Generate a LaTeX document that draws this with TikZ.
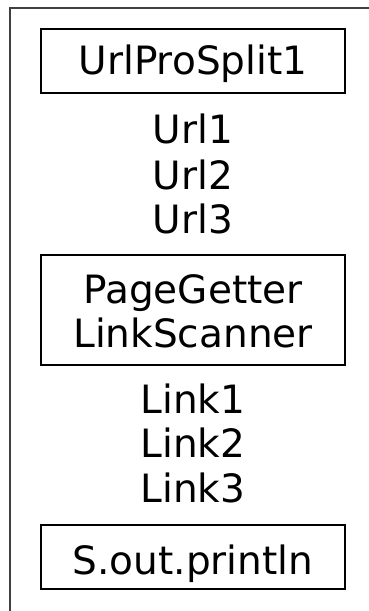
\documentclass[tikz,border=0pt]{standalone}
\usepackage{fontspec}
\setmainfont{DejaVu Sans}
\begin{document}
\begin{tikzpicture}[x=1pt,y=-1pt,
  box/.style={draw=black,line width=1.6pt,inner sep=0pt,minimum width=304pt},
  txt/.style={inner sep=0pt,anchor=base,font=\fontsize{39}{44}\selectfont},
  frame/.style={draw=black!75,line width=1.4pt}]
\useasboundingbox (0,0) rectangle (369,611);
\coordinate (ftop) at (369,8);
\coordinate (fcorner) at (10,8);
\coordinate (fbot) at (10,611);
\draw[frame] (ftop) -- (fcorner) -- (fbot);
\node[box,minimum height=64pt] (b1) at (193,61) {};
\node[txt] (t1) at (193,74) {UrlProSplit1};
\node[txt] (u1) at (193,143) {Url1};
\node[txt] (u2) at (193,189) {Url2};
\node[txt] (u3) at (193,233) {Url3};
\node[box,minimum height=110pt] (b2) at (193,310) {};
\node[txt] (t2a) at (193,303) {PageGetter};
\node[txt] (t2b) at (193,347) {LinkScanner};
\node[txt] (l1) at (193,413) {Link1};
\node[txt] (l2) at (193,457) {Link2};
\node[txt] (l3) at (193,502) {Link3};
\node[box,minimum height=64pt] (b3) at (193,557) {};
\node[txt] (t3) at (193,574) {S.out.println};
\end{tikzpicture}
\end{document}
